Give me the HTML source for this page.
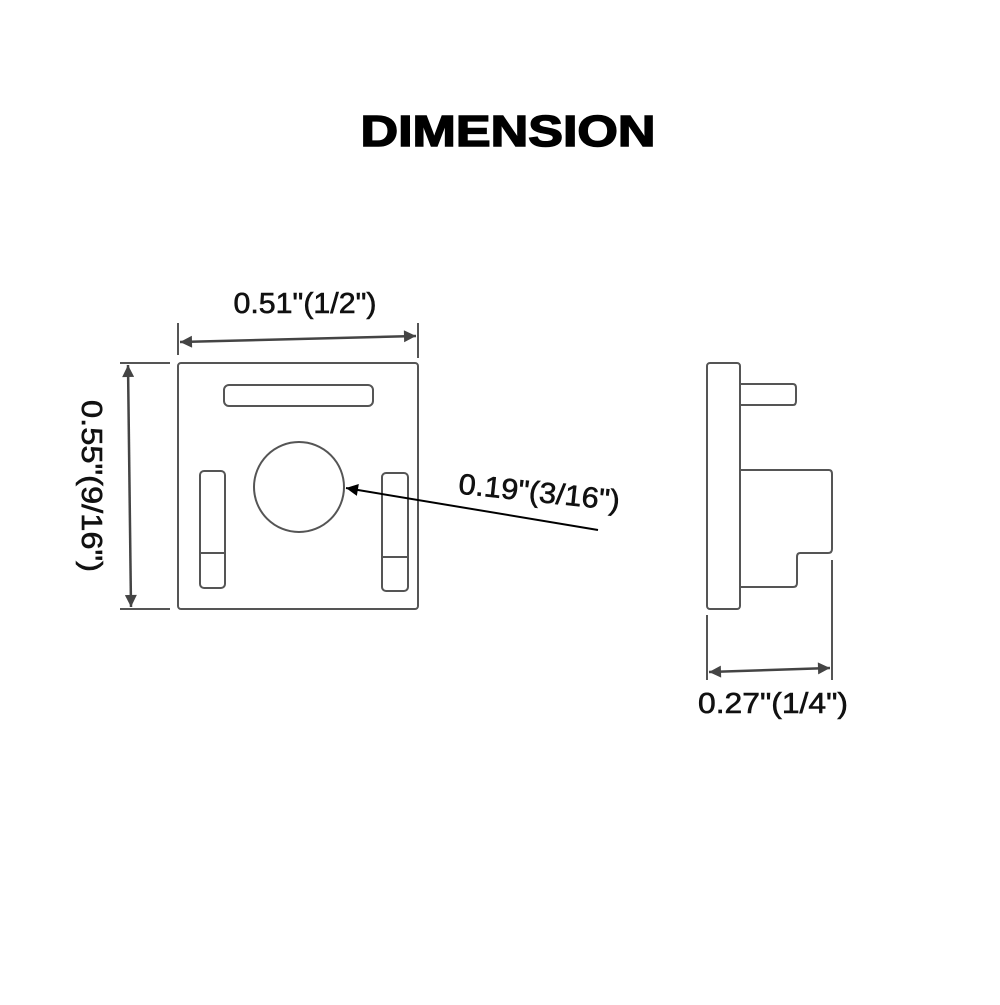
<!DOCTYPE html>
<html><head><style>body{margin:0;background:#fff}</style></head><body>
<svg width="1000" height="1000" viewBox="0 0 1000 1000" xmlns="http://www.w3.org/2000/svg">
<defs>
<marker id="a" viewBox="0 0 10 10" refX="10" refY="5" markerWidth="16" markerHeight="12" orient="auto-start-reverse" markerUnits="userSpaceOnUse"><path d="M0,0L10,5L0,10z" fill="#444"/></marker>
<marker id="b" viewBox="0 0 10 10" refX="10" refY="5" markerWidth="18" markerHeight="12" orient="auto" markerUnits="userSpaceOnUse"><path d="M0,0L10,5L0,10z" fill="#000"/></marker>
</defs>
<text x="508" y="146" text-anchor="middle" font-family="Liberation Sans, sans-serif" font-weight="900" font-size="44" textLength="295" lengthAdjust="spacingAndGlyphs" stroke="#000" stroke-width="1.5" fill="#000">DIMENSION</text>
<g fill="none" stroke="#555" stroke-width="2">
<rect x="178" y="363" width="240" height="246" rx="3"/>
<rect x="224" y="385" width="149" height="21" rx="5"/>
<circle cx="299" cy="487" r="45"/>
<rect x="200" y="471" width="25" height="117" rx="4"/>
<line x1="200" y1="553" x2="225" y2="553"/>
<rect x="382" y="473" width="26" height="118" rx="4"/>
<line x1="382" y1="557" x2="408" y2="557"/>
<line x1="178" y1="323" x2="178" y2="355"/>
<line x1="418" y1="323" x2="418" y2="358"/>
<line x1="120" y1="363" x2="170" y2="363"/>
<line x1="120" y1="609" x2="170" y2="609"/>
<line x1="707" y1="615" x2="707" y2="680"/>
<line x1="832" y1="560" x2="832" y2="680"/>
<rect x="707" y="363" width="33" height="246" rx="3"/>
<path d="M740,384H793Q796,384 796,388V401Q796,405 793,405H740"/>
<path d="M740,470H829Q832,470 832,474V549Q832,553 828,553H800Q797,553 797,557V583Q797,587 793,587H740"/>
</g>
<g stroke="#444" stroke-width="2.5">
<line x1="180" y1="342" x2="416" y2="336" marker-start="url(#a)" marker-end="url(#a)"/>
<line x1="128" y1="365" x2="131" y2="607" marker-start="url(#a)" marker-end="url(#a)"/>
<line x1="709" y1="672" x2="830" y2="668" marker-start="url(#a)" marker-end="url(#a)"/>
</g>
<line x1="598" y1="530" x2="346" y2="488" stroke="#000" stroke-width="2" marker-end="url(#b)"/>
<g font-family="Liberation Sans, sans-serif" font-size="29" fill="#111" stroke="#111" stroke-width="0.6">
<text x="305" y="313" text-anchor="middle" textLength="143" lengthAdjust="spacingAndGlyphs">0.51"(1/2")</text>
<text x="539" y="502" text-anchor="middle" textLength="162" lengthAdjust="spacingAndGlyphs" transform="rotate(6 539 495)">0.19"(3/16")</text>
<text x="773" y="713" text-anchor="middle" textLength="150" lengthAdjust="spacingAndGlyphs">0.27"(1/4")</text>
<text x="0" y="0" text-anchor="middle" textLength="172" lengthAdjust="spacingAndGlyphs" transform="translate(82 486) rotate(90)">0.55"(9/16")</text>
</g>
</svg>
</body></html>
